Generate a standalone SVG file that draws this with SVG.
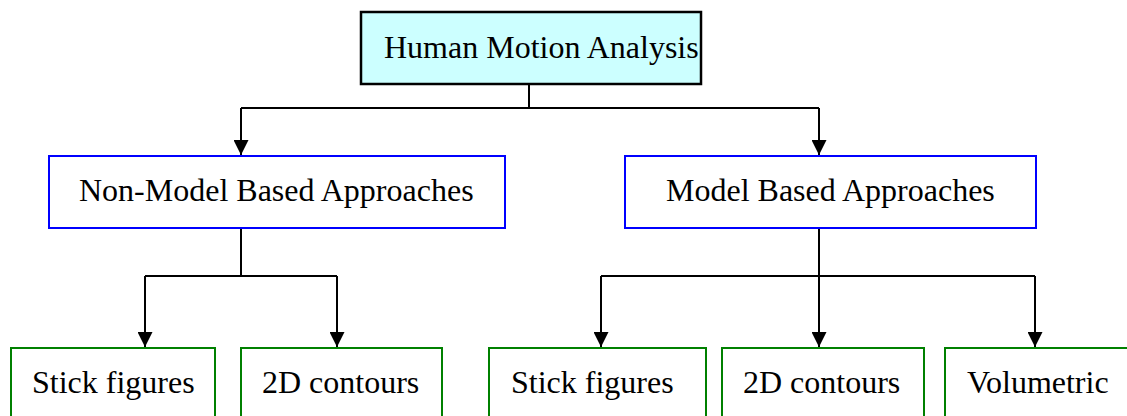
<svg xmlns="http://www.w3.org/2000/svg" width="1127" height="416" viewBox="0 0 1127 416">
  <style>
    .label { font-family: "Liberation Serif", "Times New Roman", serif; font-size: 32px; fill: #000; }
    .root { fill: #CCFFFF; stroke: #000; stroke-width: 2.5; }
    .approach { fill: #fff; stroke: #0000FF; stroke-width: 2; }
    .model { fill: #fff; stroke: #008000; stroke-width: 2; }
    .link { fill: none; stroke: #000; stroke-width: 2; }
  </style>
  <defs>
    <marker id="arrow" markerUnits="userSpaceOnUse" markerWidth="15" markerHeight="15" viewBox="0 0 10 10" refX="10" refY="5" orient="auto">
      <path d="M0,0 L10,5 L0,10 z" fill="#000"/>
    </marker>
  </defs>
  <rect width="1127" height="416" fill="#fff"/>

  <g id="connectors">
    <path class="link" d="M529,84 V108"/>
    <path class="link" d="M241,108 H819"/>
    <path class="link" d="M241,108 V155" marker-end="url(#arrow)"/>
    <path class="link" d="M819,108 V155" marker-end="url(#arrow)"/>
    <path class="link" d="M241,228 V276 M145,276 H337"/>
    <path class="link" d="M145,276 V347" marker-end="url(#arrow)"/>
    <path class="link" d="M337,276 V347" marker-end="url(#arrow)"/>
    <path class="link" d="M819,228 V276 M601,276 H1035"/>
    <path class="link" d="M601,276 V347" marker-end="url(#arrow)"/>
    <path class="link" d="M819,276 V347" marker-end="url(#arrow)"/>
    <path class="link" d="M1035,276 V347" marker-end="url(#arrow)"/>
  </g>

  <g id="human-motion-analysis">
    <rect class="root" x="361" y="12" width="340" height="72"/>
    <text class="label" x="384" y="58">Human Motion Analysis</text>
  </g>

  <g id="non-model-based">
    <rect class="approach" x="49" y="156" width="456" height="72"/>
    <text class="label" x="79" y="201">Non-Model Based Approaches</text>
  </g>

  <g id="model-based">
    <rect class="approach" x="625" y="156" width="411" height="72"/>
    <text class="label" x="666" y="201">Model Based Approaches</text>
  </g>

  <g id="nm-stick-figures">
    <rect class="model" x="11" y="348" width="204" height="100"/>
    <text class="label" x="32" y="393">Stick figures</text>
  </g>

  <g id="nm-2d-contours">
    <rect class="model" x="241" y="348" width="201" height="100"/>
    <text class="label" x="262" y="393">2D contours</text>
  </g>

  <g id="m-stick-figures">
    <rect class="model" x="489" y="348" width="217" height="100"/>
    <text class="label" x="511" y="393">Stick figures</text>
  </g>

  <g id="m-2d-contours">
    <rect class="model" x="722" y="348" width="202" height="100"/>
    <text class="label" x="743" y="393">2D contours</text>
  </g>

  <g id="m-volumetric">
    <rect class="model" x="945" y="348" width="200" height="100"/>
    <text class="label" x="967" y="393">Volumetric</text>
  </g>
</svg>
